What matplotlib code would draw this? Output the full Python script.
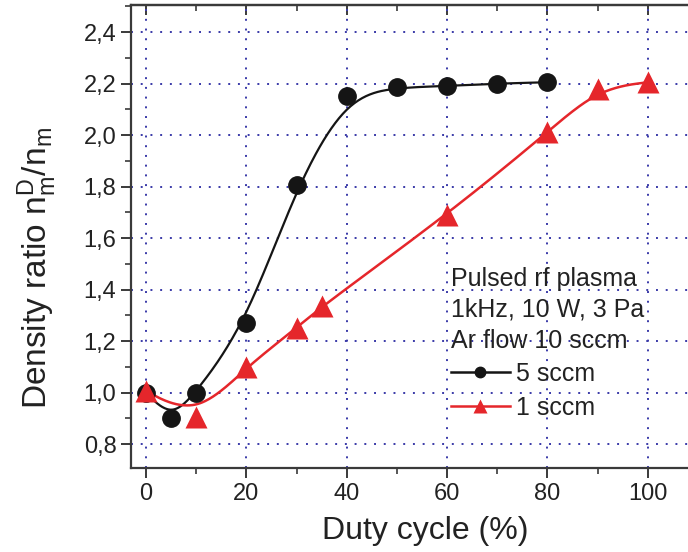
import numpy as np
import matplotlib
matplotlib.use('Agg')
import matplotlib.pyplot as plt
from matplotlib.ticker import MultipleLocator, FuncFormatter

plt.rcParams['font.family'] = 'Liberation Sans'
plt.rcParams['mathtext.fontset'] = 'custom'
plt.rcParams['mathtext.rm'] = 'Liberation Sans'
plt.rcParams['mathtext.it'] = 'Liberation Sans'
plt.rcParams['mathtext.default'] = 'regular'

# duty cycle (%) and density ratio for both flows
duty_5sccm = [0, 5, 10, 20, 30, 40, 50, 60, 70, 80]
ratio_5sccm = [1.00, 0.90, 1.00, 1.27, 1.805, 2.15, 2.185, 2.19, 2.20, 2.205]
duty_1sccm = [0, 10, 20, 30, 35, 60, 80, 90, 100]
ratio_1sccm = [1.005, 0.905, 1.10, 1.25, 1.335, 1.69, 2.01, 2.18, 2.205]

legend_title = 'Pulsed rf plasma\n1kHz, 10 W, 3 Pa\nAr flow 10 sccm'
x_ticks = [0, 20, 40, 60, 80, 100]
y_ticks = [0.8, 1.0, 1.2, 1.4, 1.6, 1.8, 2.0, 2.2, 2.4]

BLACK = '#151515'
RED = '#e5262b'
GRID = '#3a3aa8'
AXC = '#3a3a3a'


def bspline(x, y, n=40):
    # uniform cubic B-spline, endpoints clamped by repeating them
    px = np.r_[[x[0]] * 2, x, [x[-1]] * 2].astype(float)
    py = np.r_[[y[0]] * 2, y, [y[-1]] * 2].astype(float)
    t = np.linspace(0, 1, n)
    b0 = (1 - t) ** 3 / 6
    b1 = (3 * t ** 3 - 6 * t ** 2 + 4) / 6
    b2 = (-3 * t ** 3 + 3 * t ** 2 + 3 * t + 1) / 6
    b3 = t ** 3 / 6
    xs, ys = [], []
    for i in range(len(px) - 3):
        xs.append(b0 * px[i] + b1 * px[i + 1] + b2 * px[i + 2] + b3 * px[i + 3])
        ys.append(b0 * py[i] + b1 * py[i + 1] + b2 * py[i + 2] + b3 * py[i + 3])
    return np.concatenate(xs), np.concatenate(ys)


fig = plt.figure(figsize=(6.88, 5.52), dpi=100)
ax = fig.add_axes([131 / 688, 84 / 552, (698 - 131) / 688, 463 / 552])

ax.set_xlim(-3, 110)
ax.set_ylim(0.707, 2.505)

ax.set_xticks(x_ticks)
ax.set_yticks(y_ticks)
ax.xaxis.set_minor_locator(MultipleLocator(10))
ax.yaxis.set_minor_locator(MultipleLocator(0.1))
ax.yaxis.set_major_formatter(FuncFormatter(lambda v, p: f'{v:.1f}'.replace('.', ',')))

ax.grid(True, which='major', color=GRID, linestyle=(0, (1, 4)), linewidth=1.4)
ax.set_axisbelow(True)

# smoothed curves
bx, by = bspline(duty_5sccm, ratio_5sccm)
ax.plot(bx, by, color=BLACK, lw=1.6, zorder=3)
rx, ry = bspline(duty_1sccm, ratio_1sccm)
ax.plot(rx, ry, color=RED, lw=1.8, zorder=3)

ax.plot(duty_5sccm, ratio_5sccm, 'o', color=BLACK, ms=12.5, zorder=4)
ax.plot(duty_1sccm, ratio_1sccm, '^', color=RED, ms=16, mec='none', zorder=4)

# legend samples
h1, = ax.plot([], [], '-o', color=BLACK, lw=1.8, ms=7.5)
h2, = ax.plot([], [], '-^', color=RED, lw=1.8, ms=10, mec='none')
leg = ax.legend([h1, h2], ['5 sccm', '1 sccm'], title=legend_title,
                alignment='left', frameon=False, fontsize=18,
                title_fontsize=18, handlelength=2.35, handletextpad=0.25,
                labelspacing=0.38, loc='upper left',
                bbox_to_anchor=(0.564, 0.434), borderpad=0, borderaxespad=0)
leg.get_title().set_linespacing(1.36)
for t in leg.get_texts() + [leg.get_title()]:
    t.set_color('#222222')

for s in ax.spines.values():
    s.set_color(AXC)
    s.set_linewidth(1.6)
ax.tick_params(which='major', direction='out', length=7, width=1.4,
               color=AXC, labelsize=17, pad=3.5, labelcolor='#222222')
ax.tick_params(which='minor', direction='out', length=4, width=1.2, color=AXC)

# inward ticks along the top edge
top = ax.secondary_xaxis('top')
top.set_xticks(x_ticks)
top.xaxis.set_minor_locator(MultipleLocator(10))
top.tick_params(which='major', direction='in', length=7, width=1.4,
                color=AXC, labeltop=False)
top.tick_params(which='minor', direction='in', length=4, width=1.2, color=AXC)
top.spines['top'].set_color(AXC)
top.spines['top'].set_linewidth(1.6)

ax.set_xlabel('Duty cycle (%)', fontsize=23, color='#222222', labelpad=8)
ax.xaxis.label.set_x(0.519)
ax.set_ylabel('Density ratio n$^{D}_{m}$/n$_{m}$', fontsize=24,
              color='#222222', labelpad=18)
ax.yaxis.label.set_y(0.432)

fig.savefig('out.png', dpi=100)
